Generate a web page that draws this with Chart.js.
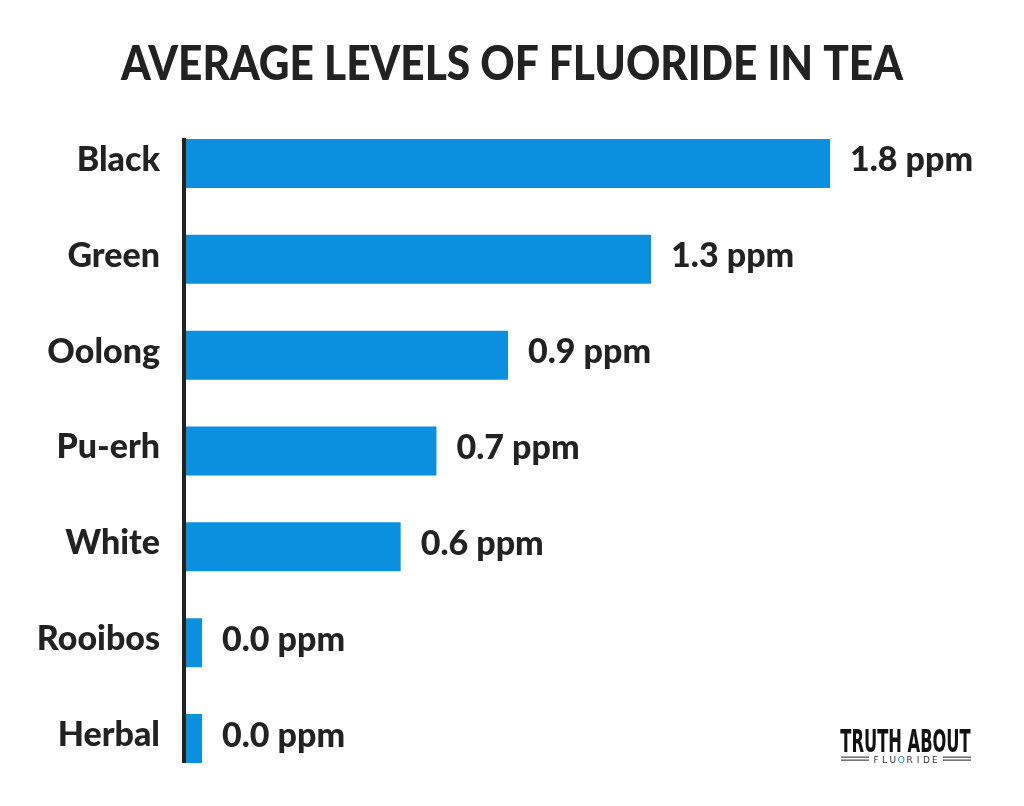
<!DOCTYPE html>
<html>
<head>
<meta charset="utf-8">
<script src="https://cdn.jsdelivr.net/npm/chart.js@4"></script>
<style>
html,body{margin:0;padding:0;background:#fff;}
#wrap{width:1024px;height:806px;position:relative;}
</style>
</head>
<body>
<div id="wrap"><canvas id="c" width="1024" height="806"></canvas></div>
<script>
const titleText = 'AVERAGE LEVELS OF FLUORIDE IN TEA';
const categories = ['Black', 'Green', 'Oolong', 'Pu-erh', 'White', 'Rooibos', 'Herbal'];
const fluoridePpm = [1.8, 1.3, 0.9, 0.7, 0.6, 0.0, 0.0];
const unitLabel = 'ppm';
const logoTop = 'TRUTH ABOUT';
const logoBottom = 'FLUORIDE';

const FONT = 'Lato, "Open Sans", sans-serif';
const INK = '#222222';
const BLUE = '#0b90e0';

const decorPlugin = {
  id: 'decor',
  afterDatasetsDraw(chart) {
    const ctx = chart.ctx;
    const meta = chart.getDatasetMeta(0);
    const els = meta.data;
    const area = chart.chartArea;
    ctx.save();
    // title
    ctx.fillStyle = INK;
    ctx.font = '900 47px ' + FONT;
    ctx.textAlign = 'center';
    ctx.textBaseline = 'alphabetic';
    ctx.save();
    ctx.translate(512, 80);
    ctx.scale(0.903, 1);
    ctx.fillText(titleText, 0, 0);
    ctx.restore();
    // axis line
    const first = els[0], last = els[els.length - 1];
    const top = first.y - first.height / 2 - 1;
    const bot = last.y + last.height / 2;
    ctx.fillStyle = INK;
    ctx.fillRect(area.left - 4, top, 4, bot - top);
    // value labels
    ctx.font = '900 34px ' + FONT;
    ctx.textAlign = 'left';
    ctx.textBaseline = 'middle';
    els.forEach((el, i) => {
      ctx.fillText(fluoridePpm[i].toFixed(1) + ' ' + unitLabel, el.x + 20, el.y - 3);
    });
    // logo
    ctx.textAlign = 'center';
    ctx.textBaseline = 'alphabetic';
    ctx.fillStyle = '#111';
    ctx.font = 'bold 27px "Liberation Sans Narrow", "DejaVu Sans Condensed", sans-serif';
    ctx.save();
    ctx.translate(905.5, 752);
    ctx.scale(0.67, 1.18);
    ctx.fillText(logoTop, 0, 0);
    ctx.restore();
    ctx.font = '9px "DejaVu Sans", sans-serif';
    const letters = logoBottom.split('');
    const startX = 876, step = 8.4;
    letters.forEach((ch, i) => {
      ctx.fillStyle = (ch === 'O') ? '#1a8fd8' : '#333';
      ctx.fillText(ch, startX + i * step, 763);
    });
    ctx.fillStyle = '#555';
    ctx.fillRect(841, 756.5, 28, 1.3);
    ctx.fillRect(841, 759.5, 28, 1.3);
    ctx.fillRect(943, 756.5, 28, 1.3);
    ctx.fillRect(943, 759.5, 28, 1.3);
    ctx.restore();
  }
};

new Chart(document.getElementById('c'), {
  type: 'bar',
  data: {
    labels: categories,
    datasets: [{
      data: fluoridePpm,
      backgroundColor: BLUE,
      borderWidth: 0,
      barPercentage: 0.511,
      categoryPercentage: 1,
      minBarLength: 16
    }]
  },
  options: {
    indexAxis: 'y',
    responsive: false,
    animation: false,
    events: [],
    layout: { padding: { top: 115.5, bottom: 19.5, left: 10, right: 194 } },
    plugins: { legend: { display: false }, tooltip: { enabled: false }, title: { display: false } },
    scales: {
      x: { display: false, min: 0, max: 1.8 },
      y: {
        grid: { display: false, drawTicks: false },
        border: { display: false },
        ticks: {
          color: INK,
          font: { family: FONT, size: 34, weight: '900', lineHeight: '7px' },
          padding: 26,
          callback(v, i) { return [categories[i], '']; }
        },
        afterFit(scale) { scale.width = 176; scale.paddingTop = 0; scale.paddingBottom = 0; }
      }
    }
  },
  plugins: [decorPlugin]
});
</script>
</body>
</html>
